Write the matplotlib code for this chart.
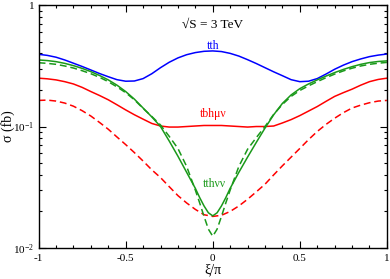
import numpy as np
import matplotlib
matplotlib.use('Agg')
import matplotlib.pyplot as plt
from matplotlib.ticker import MultipleLocator, LogLocator, FixedLocator

plt.rcParams['font.family'] = ['Liberation Serif', 'DejaVu Serif']
plt.rcParams['mathtext.fontset'] = 'custom'
plt.rcParams['mathtext.rm'] = 'Liberation Serif'

# xi/pi grid, step 0.05
xi = [-1, -0.95, -0.9, -0.85, -0.8, -0.75, -0.7, -0.65, -0.6, -0.55, -0.5,
      -0.45, -0.4, -0.35, -0.3, -0.25, -0.2, -0.15, -0.1, -0.05, 0,
      0.05, 0.1, 0.15, 0.2, 0.25, 0.3, 0.35, 0.4, 0.45, 0.5,
      0.55, 0.6, 0.65, 0.7, 0.75, 0.8, 0.85, 0.9, 0.95, 1]
tth = [0.393, 0.385, 0.372, 0.353, 0.332, 0.312, 0.292, 0.273, 0.257, 0.243, 0.236,
       0.237, 0.248, 0.272, 0.305, 0.338, 0.367, 0.39, 0.406, 0.416, 0.419,
       0.414, 0.400, 0.38, 0.355, 0.33, 0.305, 0.282, 0.262, 0.243, 0.234,
       0.236, 0.248, 0.27, 0.296, 0.32, 0.342, 0.36, 0.376, 0.387, 0.395]
tbh_solid = [0.25, 0.247, 0.242, 0.234, 0.224, 0.21, 0.194, 0.18, 0.166, 0.151, 0.137,
             0.125, 0.115, 0.106, 0.101, 0.099, 0.099, 0.1, 0.101, 0.102, 0.102,
             0.102, 0.101, 0.1, 0.099, 0.1, 0.1, 0.101, 0.107, 0.114, 0.123,
             0.134, 0.146, 0.161, 0.177, 0.19, 0.203, 0.219, 0.234, 0.244, 0.25]
tbh_dash = [0.164, 0.165, 0.162, 0.156, 0.147, 0.135, 0.122, 0.108, 0.095, 0.082, 0.071,
            0.061, 0.052, 0.044, 0.038, 0.032, 0.027, 0.0235, 0.0208, 0.0188, 0.0182,
            0.0186, 0.02, 0.0222, 0.0252, 0.029, 0.0335, 0.04, 0.0475, 0.056, 0.066,
            0.078, 0.091, 0.104, 0.117, 0.13, 0.142, 0.15, 0.157, 0.162, 0.164]

xi_g = [-1, -0.95, -0.9, -0.85, -0.8, -0.75, -0.7, -0.65, -0.6, -0.55, -0.5,
        -0.45, -0.4, -0.35, -0.3, -0.25, -0.2, -0.15, -0.1, -0.075, -0.05, -0.025, 0,
        0.025, 0.05, 0.075, 0.1, 0.15, 0.2, 0.25, 0.3, 0.35, 0.4, 0.45, 0.5,
        0.55, 0.6, 0.65, 0.7, 0.75, 0.8, 0.85, 0.9, 0.95, 1]
tthvv_solid = [0.353, 0.349, 0.342, 0.331, 0.317, 0.301, 0.283, 0.263, 0.242, 0.219, 0.194,
               0.168, 0.142, 0.12, 0.1, 0.076, 0.057, 0.042, 0.031, 0.026, 0.0222, 0.0195, 0.0184,
               0.0195, 0.0222, 0.026, 0.031, 0.042, 0.056, 0.074, 0.097, 0.125, 0.155, 0.182, 0.205,
               0.224, 0.242, 0.26, 0.278, 0.295, 0.311, 0.325, 0.336, 0.343, 0.347]
tthvv_dash = [0.335, 0.331, 0.325, 0.315, 0.303, 0.288, 0.272, 0.254, 0.234, 0.212, 0.19,
              0.166, 0.141, 0.121, 0.103, 0.083, 0.066, 0.047, 0.03, 0.0235, 0.0182, 0.0143, 0.0125,
              0.0143, 0.0182, 0.0235, 0.03, 0.047, 0.065, 0.081, 0.1, 0.126, 0.152, 0.177, 0.198,
              0.216, 0.234, 0.252, 0.27, 0.287, 0.302, 0.315, 0.325, 0.332, 0.337]

blue = '#0000ff'
red = '#ff0000'
green = '#1a991a'

fig = plt.figure(figsize=(3.9, 2.79), dpi=100)
ax = fig.add_axes([0.099, 0.111, 0.893, 0.871])

ax.plot(xi, tth, color=blue, lw=1.1)
ax.plot(xi, tbh_solid, color=red, lw=1.1)
ax.plot(xi, tbh_dash, color=red, lw=1.1, dashes=(4.5, 2.5))
ax.plot(xi_g, tthvv_solid, color=green, lw=1.1)
ax.plot(xi_g, tthvv_dash, color=green, lw=1.1, dashes=(4.5, 2.5))

ax.set_yscale('log')
ax.set_xlim(-1, 1)
ax.set_ylim(0.01, 1)

ax.xaxis.set_major_locator(FixedLocator([-1, -0.5, 0, 0.5, 1]))
ax.set_xticklabels(['-1', '-0.5', '0', '0.5', '1'])
ax.xaxis.set_minor_locator(MultipleLocator(0.1))
ax.yaxis.set_major_locator(FixedLocator([0.01, 0.1, 1]))
ax.set_yticklabels([r'$\mathregular{10^{-2}}$', r'$\mathregular{10^{-1}}$', '1'])
ax.yaxis.set_minor_locator(LogLocator(base=10, subs=np.arange(2, 10)))
ax.yaxis.set_minor_formatter(plt.NullFormatter())

ax.tick_params(which='both', direction='in', top=True, right=True, labelsize=8, width=0.8)
ax.tick_params(which='major', length=5)
ax.tick_params(axis='x', which='major', pad=4.5)
ax.tick_params(axis='y', which='major', pad=3)
ax.tick_params(which='minor', length=2.5)
for s in ax.spines.values():
    s.set_linewidth(1.0)

ax.set_xlabel('ξ/π', fontsize=10, labelpad=0)
ax.set_ylabel('σ (fb)', fontsize=10, va='center')
ax.yaxis.set_label_coords(-0.088, 0.5)

ax.text(0.0, 0.685, '√S = 3 TeV', fontsize=9.5, ha='center', va='center')
ax.text(0.0, 0.46, 'tth', fontsize=8.5, color=blue, ha='center', va='center')
ax.text(0.0, 0.128, 'tbhμν', fontsize=8.5, color=red, ha='center', va='center')
ax.text(0.01, 0.0335, 'tthνν', fontsize=8.5, color=green, ha='center', va='center')

fig.savefig('out.png', dpi=100)
